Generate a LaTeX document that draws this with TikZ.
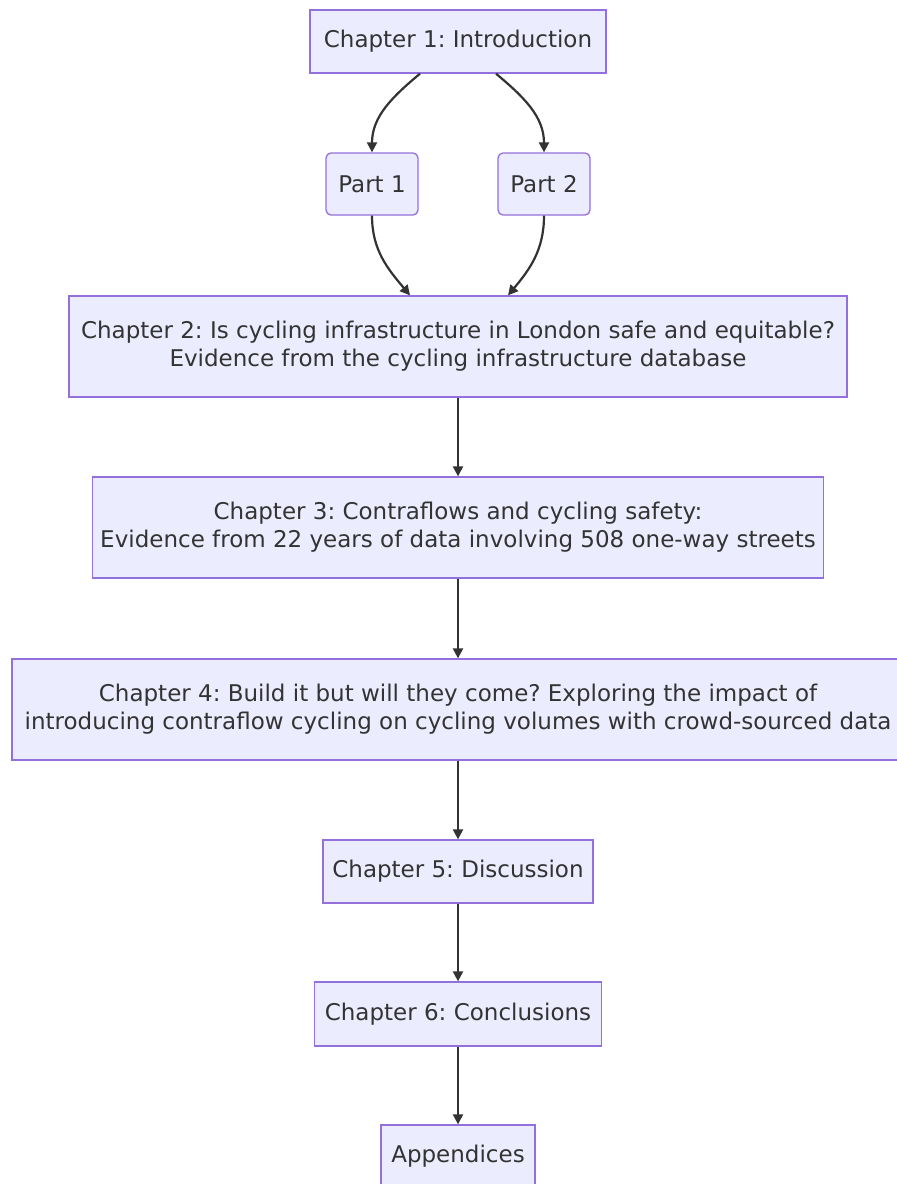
\documentclass[tikz,border=0pt]{standalone}
\usepackage{fontspec}
\setmainfont{DejaVu Sans}
\usetikzlibrary{arrows.meta}
\definecolor{boxfill}{HTML}{ECECFF}
\definecolor{boxline}{HTML}{9370DB}
\definecolor{ink}{HTML}{333333}
\frenchspacing
\tikzset{
  chbox/.style={draw=boxline,fill=boxfill,line width=1.3pt,inner sep=0pt,align=center,text=ink,font=\fontsize{23}{28}\selectfont},
  partbox/.style={chbox,rounded corners=5pt},
  flow/.style={draw=ink,line width=2.2pt,-{Triangle[length=10pt,width=10pt]}}
}
\begin{document}
\begin{tikzpicture}[x=1pt,y=1pt]
\useasboundingbox (0,0) rectangle (897,-1184);
\clip (0,0) rectangle (897,-1184);
\node[chbox,minimum width=296,minimum height=63] (ch1) at (458,-41.5) {Chapter 1: Introduction};
\node[partbox,minimum width=92,minimum height=62] (p1) at (372,-184) {Part 1};
\node[partbox,minimum width=92,minimum height=62] (p2) at (544,-184) {Part 2};
\node[chbox,minimum width=778,minimum height=101] (ch2) at (458,-346.5) {Chapter 2: Is cycling infrastructure in London safe and equitable?\\Evidence from the cycling infrastructure database};
\node[chbox,minimum width=731,minimum height=101] (ch3) at (458,-527.5) {Chapter 3: Contraflows and cycling safety:\\Evidence from 22 years of data involving 508 one-way streets};
\node[chbox,minimum width=892,minimum height=101] (ch4) at (458,-709.5) {Chapter 4: Build it but will they come? Exploring the impact of\\introducing contraflow cycling on cycling volumes with crowd-sourced data};
\node[chbox,minimum width=270,minimum height=63] (ch5) at (458,-871.5) {Chapter 5: Discussion};
\node[chbox,minimum width=287,minimum height=64] (ch6) at (458,-1014) {Chapter 6: Conclusions};
\node[chbox,minimum width=154,minimum height=63] (app) at (458,-1156.5) {Appendices};
\draw[flow] ([xshift=-38pt]ch1.south) to[out=-140,in=90] (p1.north);
\draw[flow] ([xshift=38pt]ch1.south) to[out=-40,in=90] (p2.north);
\draw[flow] (p1.south) to[out=-90,in=130] ([xshift=-48pt]ch2.north);
\draw[flow] (p2.south) to[out=-90,in=50] ([xshift=50pt]ch2.north);
\draw[flow] (ch2.south) -- (ch3.north);
\draw[flow] (ch3.south) -- (ch4.north);
\draw[flow] (ch4.south) -- (ch5.north);
\draw[flow] (ch5.south) -- (ch6.north);
\draw[flow] (ch6.south) -- (app.north);
\end{tikzpicture}
\end{document}
